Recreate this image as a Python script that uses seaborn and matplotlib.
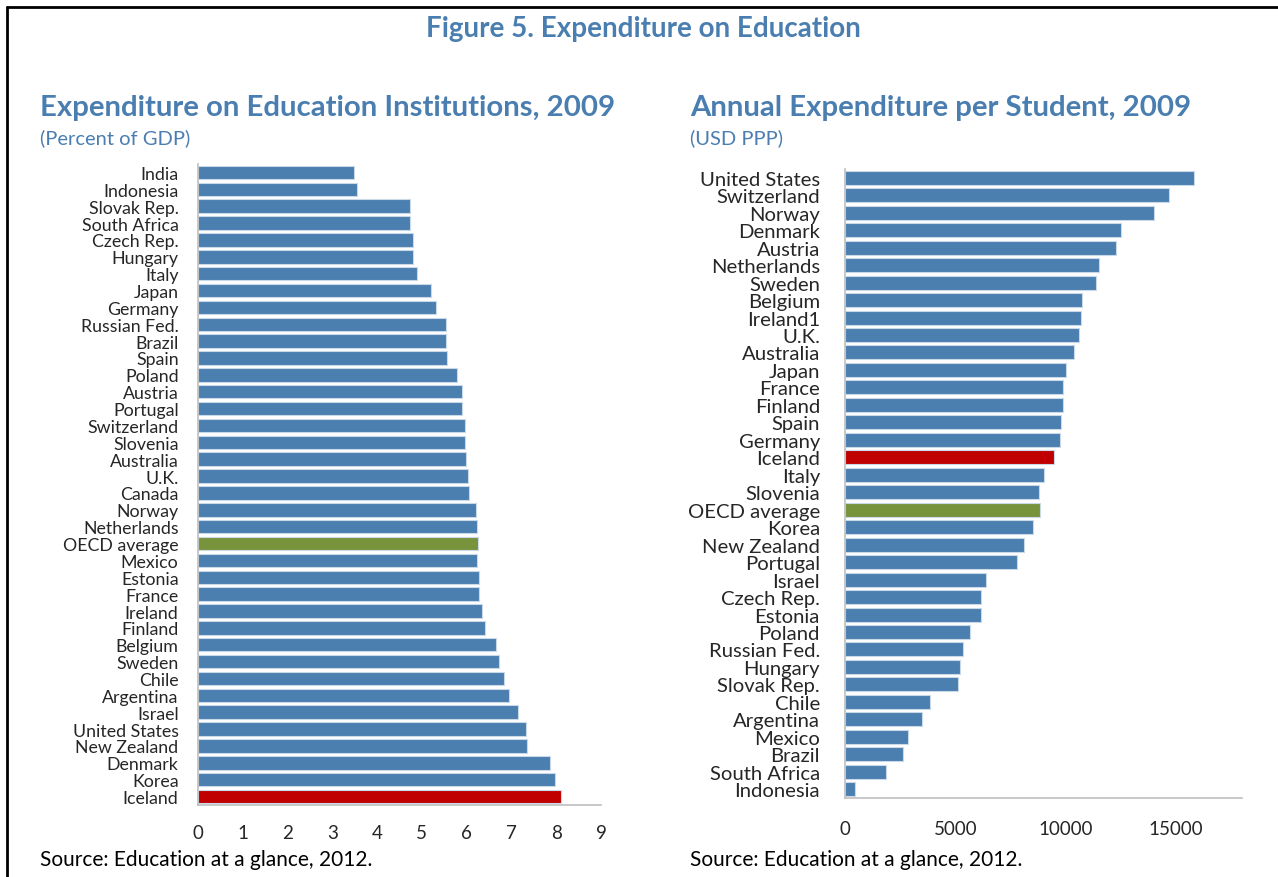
"""Figure 5: expenditure on education, two horizontal bar panels."""

import matplotlib
matplotlib.use("Agg")
import matplotlib.pyplot as plt
from matplotlib.lines import Line2D
import seaborn as sns

BLUE = "#4A7FB0"
RED = "#C00000"
GREEN = "#77933C"
TITLE = "#4A7EB0"
AXIS = "#BFBFBF"

# left panel: percent of GDP
gdp_countries = [
    "India", "Indonesia", "Slovak Rep.", "South Africa", "Czech Rep.", "Hungary",
    "Italy", "Japan", "Germany", "Russian Fed.", "Brazil", "Spain", "Poland",
    "Austria", "Portugal", "Switzerland", "Slovenia", "Australia", "U.K.", "Canada",
    "Norway", "Netherlands", "OECD average", "Mexico", "Estonia", "France",
    "Ireland", "Finland", "Belgium", "Sweden", "Chile", "Argentina", "Israel",
    "United States", "New Zealand", "Denmark", "Korea", "Iceland",
]
gdp_values = [
    3.48, 3.55, 4.73, 4.73, 4.80, 4.81, 4.88, 5.21, 5.31, 5.53, 5.53, 5.55, 5.78,
    5.89, 5.89, 5.96, 5.96, 5.98, 6.03, 6.06, 6.21, 6.22, 6.25, 6.24, 6.28, 6.28,
    6.34, 6.42, 6.65, 6.73, 6.83, 6.95, 7.15, 7.32, 7.34, 7.85, 7.98, 8.11,
]

# right panel: USD PPP per student
usd_countries = [
    "United States", "Switzerland", "Norway", "Denmark", "Austria", "Netherlands",
    "Sweden", "Belgium", "Ireland1", "U.K.", "Australia", "Japan", "France",
    "Finland", "Spain", "Germany", "Iceland", "Italy", "Slovenia", "OECD average",
    "Korea", "New Zealand", "Portugal", "Israel", "Czech Rep.", "Estonia", "Poland",
    "Russian Fed.", "Hungary", "Slovak Rep.", "Chile", "Argentina", "Mexico",
    "Brazil", "South Africa", "Indonesia",
]
usd_values = [
    15820, 14700, 13990, 12520, 12290, 11500, 11370, 10750, 10700, 10590, 10380,
    10030, 9900, 9900, 9800, 9740, 9490, 9030, 8800, 8860, 8520, 8100, 7810, 6390,
    6180, 6180, 5670, 5350, 5210, 5140, 3860, 3490, 2870, 2620, 1840, 460,
]


def bar_colors(countries):
    out = {}
    for c in countries:
        if c == "Iceland":
            out[c] = RED
        elif c == "OECD average":
            out[c] = GREEN
        else:
            out[c] = BLUE
    return out


def draw_panel(ax, countries, values, xlim, xticks, label_size, xpad, ypad):
    sns.barplot(x=values, y=countries, hue=countries, palette=bar_colors(countries),
                legend=False, orient="h", width=0.8, saturation=1, ax=ax,
                edgecolor="#C9D9E8", linewidth=0.8)
    n = len(countries)
    ax.set_xlim(*xlim)
    ax.set_ylim(n - 0.5, -0.5)
    ax.set_xticks(xticks)
    ax.set_xlabel("")
    ax.set_ylabel("")
    for side in ("top", "right"):
        ax.spines[side].set_visible(False)
    for side in ("left", "bottom"):
        ax.spines[side].set_color(AXIS)
        ax.spines[side].set_linewidth(1.2)
    ax.tick_params(axis="x", direction="in", length=5, color="#A6A6A6",
                   labelsize=13.5, pad=xpad)
    ax.tick_params(axis="y", length=0, labelsize=label_size, pad=ypad)
    ax.set_yticks([i - 0.5 for i in range(n)], minor=True)
    ax.tick_params(axis="y", which="minor", direction="in", length=4,
                   color=AXIS)
    ax.grid(False)


sns.set_theme(style="white")
plt.rcParams["font.family"] = ["Lato", "DejaVu Sans"]

W, H = 1278, 878
fig = plt.figure(figsize=(W / 100, H / 100), dpi=100)


def px_axes(x0, y0, x1, y1):
    return fig.add_axes([x0 / W, 1 - y1 / H, (x1 - x0) / W, (y1 - y0) / H])


ax1 = px_axes(198, 165, 601, 806)
draw_panel(ax1, gdp_countries, gdp_values, (0, 9), range(0, 10), 12.8, 14, 14)

ax2 = px_axes(845, 170, 1242, 799)
draw_panel(ax2, usd_countries, usd_values, (0, 18000), [0, 5000, 10000, 15000],
           14.6, 16, 18)

# frame lines (top and left)
fig.add_artist(Line2D([7 / W, 1], [1 - 8 / H, 1 - 8 / H], color="black", lw=2))
fig.add_artist(Line2D([7 / W, 7 / W], [0, 1 - 8 / H], color="black", lw=2))

fig.text(643 / W, 1 - 29 / H, "Figure 5. Expenditure on Education", color=TITLE,
         fontsize=20, fontweight="bold", ha="center", va="center")

fig.text(40 / W, 1 - 108 / H, "Expenditure on Education Institutions, 2009",
         color=TITLE, fontsize=21.2, fontweight="bold", va="center")
fig.text(40 / W, 1 - 138 / H, "(Percent of GDP)", color=TITLE, fontsize=14.5,
         va="center")
fig.text(690 / W, 1 - 108 / H, "Annual Expenditure per Student, 2009",
         color=TITLE, fontsize=21.2, fontweight="bold", va="center")
fig.text(690 / W, 1 - 138 / H, "(USD PPP)", color=TITLE, fontsize=14.5,
         va="center")

fig.text(40 / W, 1 - 860 / H, "Source: Education at a glance, 2012.",
         color="black", fontsize=15, va="center")
fig.text(690 / W, 1 - 860 / H, "Source: Education at a glance, 2012.",
         color="black", fontsize=15, va="center")

fig.savefig("out.png", dpi=100)
